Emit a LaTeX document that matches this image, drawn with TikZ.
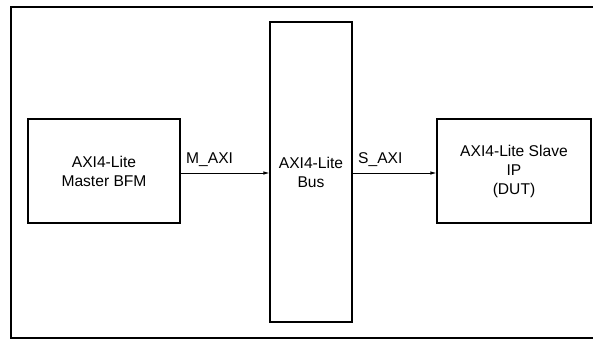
\documentclass[tikz,border=0pt]{standalone}
\usepackage{fontspec}
\setmainfont{Liberation Sans}
\usetikzlibrary{arrows.meta}
\begin{document}
\begin{tikzpicture}[x=1pt,y=-1pt,
  blk/.style={draw, line width=1.1pt, inner sep=0pt, align=center, font=\fontsize{15.6}{19}\selectfont},
  lbl/.style={font=\fontsize{15.6}{19}\selectfont, inner sep=0pt, anchor=base west},
  conn/.style={line width=0.8pt, -{Latex[length=6pt,width=3.5pt]}}]
\useasboundingbox (0,0) rectangle (593,343);
\draw[line width=1.6pt] (594,7) -- (11,7) -- (11,338) -- (594,338);
\node[blk, minimum width=152pt, minimum height=104pt] (master) at (104,171) {AXI4-Lite\\Master BFM};
\node[blk, minimum width=82pt, minimum height=300pt] (bus) at (311,172) {};
\node[blk, minimum width=154pt, minimum height=104pt] (slave) at (514,171) {AXI4-Lite Slave\\IP\\(DUT)};
\node[align=center, inner sep=0pt, font=\fontsize{15.6}{19}\selectfont] (bustext) at (311,172) {AXI4-Lite\\Bus};
\coordinate (m1) at (master.east |- 0,173);
\coordinate (b1) at (bus.west |- 0,173);
\coordinate (b2) at (bus.east |- 0,173);
\coordinate (s1) at (slave.west |- 0,173);
\draw[conn] (m1) -- (b1);
\draw[conn] (b2) -- (s1);
\node[lbl] (mlab) at (186,163) {M\_AXI};
\node[lbl] (slab) at (358,163) {S\_AXI};
\end{tikzpicture}
\end{document}
